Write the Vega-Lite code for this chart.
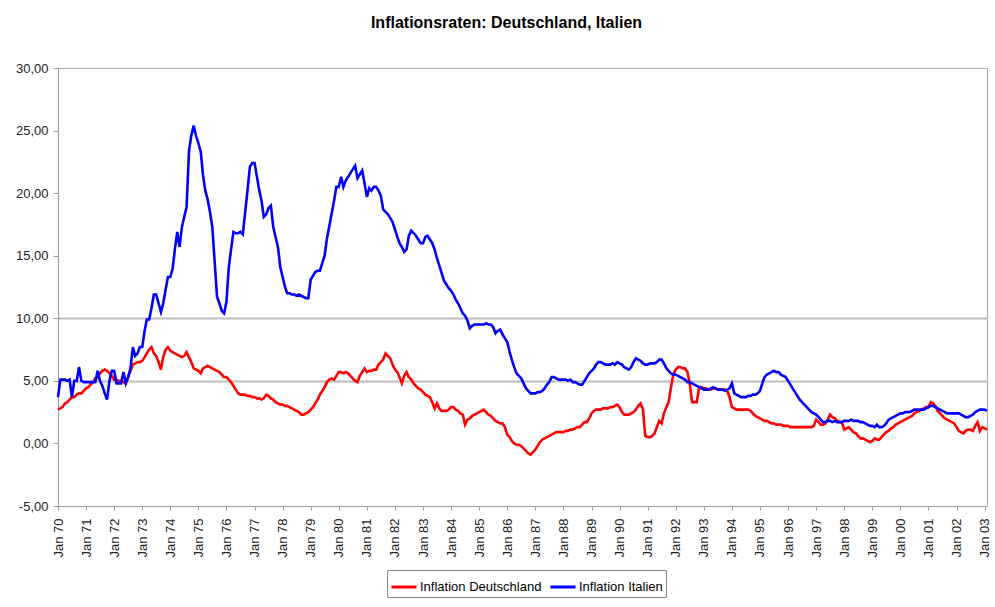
{
"$schema": "https://vega.github.io/schema/vega-lite/v6.json",
"autosize": {"type": "none"},
"width": 929,
"height": 438,
"padding": {"left": 58, "top": 68, "right": 8, "bottom": 101},
"background": "white",
"title": {"text": "Inflationsraten: Deutschland, Italien", "font": "Liberation Sans", "fontSize": 16, "fontWeight": "bold", "color": "#000000", "anchor": "middle", "offset": 31, "dx": -16},
"config": {"view": {"stroke": "#aaaaaa", "strokeWidth": 1}},
"data": {"values": [
{"m":"1970-01","de":2.7,"it":3.7},{"m":"1970-02","de":2.8,"it":5.1},{"m":"1970-03","de":2.9,"it":5.1},{"m":"1970-04","de":3.2,"it":5.1},{"m":"1970-05","de":3.3,"it":5.0},{"m":"1970-06","de":3.5,"it":5.1},{"m":"1970-07","de":3.7,"it":3.7},{"m":"1970-08","de":3.7,"it":5.0},{"m":"1970-09","de":3.9,"it":5.0},{"m":"1970-10","de":4.0,"it":6.1},{"m":"1970-11","de":4.0,"it":5.0},{"m":"1970-12","de":4.2,"it":4.9},
{"m":"1971-01","de":4.4,"it":4.9},{"m":"1971-02","de":4.5,"it":4.9},{"m":"1971-03","de":4.7,"it":4.9},{"m":"1971-04","de":4.9,"it":4.9},{"m":"1971-05","de":5.2,"it":4.9},{"m":"1971-06","de":5.3,"it":5.8},{"m":"1971-07","de":5.6,"it":5.0},{"m":"1971-08","de":5.8,"it":4.6},{"m":"1971-09","de":5.9,"it":4.0},{"m":"1971-10","de":5.8,"it":3.5},{"m":"1971-11","de":5.6,"it":5.0},{"m":"1971-12","de":5.4,"it":5.8},
{"m":"1972-01","de":5.1,"it":5.8},{"m":"1972-02","de":5.1,"it":4.8},{"m":"1972-03","de":5.0,"it":4.8},{"m":"1972-04","de":5.0,"it":4.8},{"m":"1972-05","de":4.9,"it":5.7},{"m":"1972-06","de":4.8,"it":4.8},{"m":"1972-07","de":5.3,"it":5.3},{"m":"1972-08","de":5.8,"it":6.0},{"m":"1972-09","de":6.3,"it":7.7},{"m":"1972-10","de":6.4,"it":7.0},{"m":"1972-11","de":6.5,"it":7.2},{"m":"1972-12","de":6.5,"it":7.7},
{"m":"1973-01","de":6.6,"it":7.7},{"m":"1973-02","de":6.9,"it":9.0},{"m":"1973-03","de":7.2,"it":9.9},{"m":"1973-04","de":7.5,"it":9.9},{"m":"1973-05","de":7.7,"it":10.8},{"m":"1973-06","de":7.2,"it":11.9},{"m":"1973-07","de":7.0,"it":11.9},{"m":"1973-08","de":6.5,"it":11.2},{"m":"1973-09","de":5.9,"it":10.5},{"m":"1973-10","de":6.9,"it":11.2},{"m":"1973-11","de":7.5,"it":12.3},{"m":"1973-12","de":7.7,"it":13.3},
{"m":"1974-01","de":7.4,"it":13.3},{"m":"1974-02","de":7.3,"it":14.0},{"m":"1974-03","de":7.2,"it":15.5},{"m":"1974-04","de":7.1,"it":16.9},{"m":"1974-05","de":7.0,"it":15.7},{"m":"1974-06","de":6.9,"it":17.3},{"m":"1974-07","de":7.0,"it":18.1},{"m":"1974-08","de":7.3,"it":18.9},{"m":"1974-09","de":6.9,"it":23.4},{"m":"1974-10","de":6.5,"it":24.6},{"m":"1974-11","de":6.0,"it":25.4},{"m":"1974-12","de":5.9,"it":24.6},
{"m":"1975-01","de":5.8,"it":24.0},{"m":"1975-02","de":5.6,"it":23.3},{"m":"1975-03","de":6.0,"it":21.5},{"m":"1975-04","de":6.1,"it":20.2},{"m":"1975-05","de":6.2,"it":19.5},{"m":"1975-06","de":6.1,"it":18.5},{"m":"1975-07","de":6.0,"it":17.3},{"m":"1975-08","de":5.9,"it":14.5},{"m":"1975-09","de":5.8,"it":11.7},{"m":"1975-10","de":5.7,"it":11.2},{"m":"1975-11","de":5.5,"it":10.6},{"m":"1975-12","de":5.3,"it":10.4},
{"m":"1976-01","de":5.3,"it":11.3},{"m":"1976-02","de":5.1,"it":14.1},{"m":"1976-03","de":4.9,"it":15.5},{"m":"1976-04","de":4.6,"it":16.9},{"m":"1976-05","de":4.3,"it":16.8},{"m":"1976-06","de":4.0,"it":16.8},{"m":"1976-07","de":3.9,"it":16.9},{"m":"1976-08","de":3.9,"it":16.7},{"m":"1976-09","de":3.9,"it":18.5},{"m":"1976-10","de":3.8,"it":20.2},{"m":"1976-11","de":3.8,"it":22.1},{"m":"1976-12","de":3.7,"it":22.4},
{"m":"1977-01","de":3.7,"it":22.4},{"m":"1977-02","de":3.6,"it":21.3},{"m":"1977-03","de":3.6,"it":20.3},{"m":"1977-04","de":3.5,"it":19.4},{"m":"1977-05","de":3.6,"it":18.1},{"m":"1977-06","de":3.9,"it":18.3},{"m":"1977-07","de":3.8,"it":18.8},{"m":"1977-08","de":3.6,"it":19.0},{"m":"1977-09","de":3.5,"it":17.3},{"m":"1977-10","de":3.3,"it":16.5},{"m":"1977-11","de":3.2,"it":15.7},{"m":"1977-12","de":3.1,"it":14.1},
{"m":"1978-01","de":3.1,"it":13.3},{"m":"1978-02","de":3.0,"it":12.5},{"m":"1978-03","de":3.0,"it":12.0},{"m":"1978-04","de":2.9,"it":12.0},{"m":"1978-05","de":2.8,"it":11.9},{"m":"1978-06","de":2.7,"it":11.9},{"m":"1978-07","de":2.6,"it":11.8},{"m":"1978-08","de":2.5,"it":11.9},{"m":"1978-09","de":2.3,"it":11.8},{"m":"1978-10","de":2.3,"it":11.7},{"m":"1978-11","de":2.4,"it":11.6},{"m":"1978-12","de":2.5,"it":11.6},
{"m":"1979-01","de":2.7,"it":13.1},{"m":"1979-02","de":2.9,"it":13.4},{"m":"1979-03","de":3.2,"it":13.7},{"m":"1979-04","de":3.5,"it":13.8},{"m":"1979-05","de":3.9,"it":13.8},{"m":"1979-06","de":4.2,"it":14.4},{"m":"1979-07","de":4.5,"it":15.0},{"m":"1979-08","de":4.9,"it":16.4},{"m":"1979-09","de":5.1,"it":17.4},{"m":"1979-10","de":5.2,"it":18.4},{"m":"1979-11","de":5.1,"it":19.4},{"m":"1979-12","de":5.4,"it":20.5},
{"m":"1980-01","de":5.7,"it":20.5},{"m":"1980-02","de":5.7,"it":21.3},{"m":"1980-03","de":5.6,"it":20.5},{"m":"1980-04","de":5.7,"it":21.0},{"m":"1980-05","de":5.6,"it":21.3},{"m":"1980-06","de":5.4,"it":21.6},{"m":"1980-07","de":5.2,"it":21.9},{"m":"1980-08","de":5.0,"it":22.2},{"m":"1980-09","de":4.9,"it":21.2},{"m":"1980-10","de":5.4,"it":21.5},{"m":"1980-11","de":5.7,"it":21.8},{"m":"1980-12","de":6.0,"it":20.8},
{"m":"1981-01","de":5.7,"it":19.7},{"m":"1981-02","de":5.8,"it":20.4},{"m":"1981-03","de":5.8,"it":20.2},{"m":"1981-04","de":5.9,"it":20.5},{"m":"1981-05","de":5.9,"it":20.5},{"m":"1981-06","de":6.3,"it":20.2},{"m":"1981-07","de":6.5,"it":19.8},{"m":"1981-08","de":6.7,"it":18.7},{"m":"1981-09","de":7.2,"it":18.5},{"m":"1981-10","de":7.0,"it":18.3},{"m":"1981-11","de":6.8,"it":18.0},{"m":"1981-12","de":6.3,"it":17.7},
{"m":"1982-01","de":5.9,"it":17.1},{"m":"1982-02","de":5.7,"it":16.5},{"m":"1982-03","de":5.3,"it":16.0},{"m":"1982-04","de":4.8,"it":15.7},{"m":"1982-05","de":5.4,"it":15.3},{"m":"1982-06","de":5.7,"it":15.5},{"m":"1982-07","de":5.3,"it":16.6},{"m":"1982-08","de":5.1,"it":17.0},{"m":"1982-09","de":4.8,"it":16.8},{"m":"1982-10","de":4.6,"it":16.6},{"m":"1982-11","de":4.4,"it":16.3},{"m":"1982-12","de":4.3,"it":16.0},
{"m":"1983-01","de":4.1,"it":16.0},{"m":"1983-02","de":3.9,"it":16.5},{"m":"1983-03","de":3.8,"it":16.6},{"m":"1983-04","de":3.7,"it":16.3},{"m":"1983-05","de":3.3,"it":16.0},{"m":"1983-06","de":2.8,"it":15.5},{"m":"1983-07","de":3.2,"it":14.8},{"m":"1983-08","de":2.8,"it":14.2},{"m":"1983-09","de":2.6,"it":13.6},{"m":"1983-10","de":2.6,"it":13.0},{"m":"1983-11","de":2.6,"it":12.7},{"m":"1983-12","de":2.7,"it":12.4},
{"m":"1984-01","de":2.9,"it":12.2},{"m":"1984-02","de":2.9,"it":11.9},{"m":"1984-03","de":2.7,"it":11.5},{"m":"1984-04","de":2.6,"it":11.2},{"m":"1984-05","de":2.4,"it":10.8},{"m":"1984-06","de":2.3,"it":10.4},{"m":"1984-07","de":1.5,"it":10.2},{"m":"1984-08","de":1.9,"it":9.8},{"m":"1984-09","de":2.0,"it":9.2},{"m":"1984-10","de":2.2,"it":9.4},{"m":"1984-11","de":2.3,"it":9.5},{"m":"1984-12","de":2.4,"it":9.5},
{"m":"1985-01","de":2.5,"it":9.5},{"m":"1985-02","de":2.6,"it":9.5},{"m":"1985-03","de":2.7,"it":9.5},{"m":"1985-04","de":2.5,"it":9.6},{"m":"1985-05","de":2.3,"it":9.5},{"m":"1985-06","de":2.2,"it":9.5},{"m":"1985-07","de":2.0,"it":9.3},{"m":"1985-08","de":1.8,"it":8.8},{"m":"1985-09","de":1.7,"it":9.0},{"m":"1985-10","de":1.6,"it":9.1},{"m":"1985-11","de":1.6,"it":8.7},{"m":"1985-12","de":1.3,"it":8.4},
{"m":"1986-01","de":0.7,"it":8.1},{"m":"1986-02","de":0.5,"it":7.3},{"m":"1986-03","de":0.2,"it":6.7},{"m":"1986-04","de":0.0,"it":6.1},{"m":"1986-05","de":-0.1,"it":5.6},{"m":"1986-06","de":-0.1,"it":5.4},{"m":"1986-07","de":-0.2,"it":5.2},{"m":"1986-08","de":-0.4,"it":4.8},{"m":"1986-09","de":-0.6,"it":4.4},{"m":"1986-10","de":-0.8,"it":4.2},{"m":"1986-11","de":-0.9,"it":4.0},{"m":"1986-12","de":-0.7,"it":4.0},
{"m":"1987-01","de":-0.5,"it":4.0},{"m":"1987-02","de":-0.2,"it":4.1},{"m":"1987-03","de":0.1,"it":4.1},{"m":"1987-04","de":0.3,"it":4.2},{"m":"1987-05","de":0.4,"it":4.4},{"m":"1987-06","de":0.5,"it":4.7},{"m":"1987-07","de":0.6,"it":4.9},{"m":"1987-08","de":0.7,"it":5.3},{"m":"1987-09","de":0.8,"it":5.3},{"m":"1987-10","de":0.9,"it":5.2},{"m":"1987-11","de":0.9,"it":5.1},{"m":"1987-12","de":0.9,"it":5.1},
{"m":"1988-01","de":0.9,"it":5.1},{"m":"1988-02","de":1.0,"it":5.1},{"m":"1988-03","de":1.0,"it":5.0},{"m":"1988-04","de":1.1,"it":5.1},{"m":"1988-05","de":1.1,"it":4.9},{"m":"1988-06","de":1.2,"it":4.9},{"m":"1988-07","de":1.3,"it":4.8},{"m":"1988-08","de":1.3,"it":4.7},{"m":"1988-09","de":1.5,"it":4.7},{"m":"1988-10","de":1.7,"it":5.0},{"m":"1988-11","de":1.7,"it":5.3},{"m":"1988-12","de":2.0,"it":5.6},
{"m":"1989-01","de":2.4,"it":5.8},{"m":"1989-02","de":2.6,"it":6.0},{"m":"1989-03","de":2.7,"it":6.3},{"m":"1989-04","de":2.7,"it":6.5},{"m":"1989-05","de":2.7,"it":6.5},{"m":"1989-06","de":2.8,"it":6.4},{"m":"1989-07","de":2.8,"it":6.3},{"m":"1989-08","de":2.8,"it":6.3},{"m":"1989-09","de":2.9,"it":6.3},{"m":"1989-10","de":2.9,"it":6.4},{"m":"1989-11","de":3.0,"it":6.3},{"m":"1989-12","de":3.1,"it":6.5},
{"m":"1990-01","de":2.9,"it":6.4},{"m":"1990-02","de":2.5,"it":6.3},{"m":"1990-03","de":2.3,"it":6.1},{"m":"1990-04","de":2.3,"it":6.0},{"m":"1990-05","de":2.3,"it":5.9},{"m":"1990-06","de":2.4,"it":6.1},{"m":"1990-07","de":2.5,"it":6.5},{"m":"1990-08","de":2.7,"it":6.8},{"m":"1990-09","de":3.0,"it":6.7},{"m":"1990-10","de":3.2,"it":6.6},{"m":"1990-11","de":2.7,"it":6.4},{"m":"1990-12","de":0.6,"it":6.3},
{"m":"1991-01","de":0.5,"it":6.3},{"m":"1991-02","de":0.5,"it":6.4},{"m":"1991-03","de":0.6,"it":6.4},{"m":"1991-04","de":0.8,"it":6.4},{"m":"1991-05","de":1.3,"it":6.5},{"m":"1991-06","de":1.8,"it":6.7},{"m":"1991-07","de":1.6,"it":6.7},{"m":"1991-08","de":2.4,"it":6.4},{"m":"1991-09","de":2.9,"it":6.0},{"m":"1991-10","de":3.3,"it":5.8},{"m":"1991-11","de":4.5,"it":5.6},{"m":"1991-12","de":5.5,"it":5.5},
{"m":"1992-01","de":5.9,"it":5.5},{"m":"1992-02","de":6.1,"it":5.4},{"m":"1992-03","de":6.1,"it":5.3},{"m":"1992-04","de":6.0,"it":5.2},{"m":"1992-05","de":6.0,"it":5.1},{"m":"1992-06","de":5.7,"it":4.9},{"m":"1992-07","de":4.8,"it":4.9},{"m":"1992-08","de":3.3,"it":4.8},{"m":"1992-09","de":3.3,"it":4.7},{"m":"1992-10","de":3.3,"it":4.6},{"m":"1992-11","de":4.5,"it":4.5},{"m":"1992-12","de":4.5,"it":4.4},
{"m":"1993-01","de":4.4,"it":4.3},{"m":"1993-02","de":4.4,"it":4.3},{"m":"1993-03","de":4.3,"it":4.3},{"m":"1993-04","de":4.3,"it":4.4},{"m":"1993-05","de":4.4,"it":4.5},{"m":"1993-06","de":4.4,"it":4.4},{"m":"1993-07","de":4.3,"it":4.3},{"m":"1993-08","de":4.3,"it":4.3},{"m":"1993-09","de":4.3,"it":4.3},{"m":"1993-10","de":4.3,"it":4.2},{"m":"1993-11","de":4.2,"it":4.3},{"m":"1993-12","de":3.7,"it":4.4},
{"m":"1994-01","de":2.9,"it":4.8},{"m":"1994-02","de":2.8,"it":4.0},{"m":"1994-03","de":2.7,"it":3.9},{"m":"1994-04","de":2.7,"it":3.8},{"m":"1994-05","de":2.7,"it":3.7},{"m":"1994-06","de":2.7,"it":3.7},{"m":"1994-07","de":2.7,"it":3.7},{"m":"1994-08","de":2.7,"it":3.8},{"m":"1994-09","de":2.6,"it":3.8},{"m":"1994-10","de":2.4,"it":3.9},{"m":"1994-11","de":2.2,"it":3.9},{"m":"1994-12","de":2.1,"it":4.0},
{"m":"1995-01","de":2.0,"it":4.2},{"m":"1995-02","de":1.9,"it":4.8},{"m":"1995-03","de":1.8,"it":5.3},{"m":"1995-04","de":1.8,"it":5.5},{"m":"1995-05","de":1.7,"it":5.6},{"m":"1995-06","de":1.6,"it":5.7},{"m":"1995-07","de":1.6,"it":5.8},{"m":"1995-08","de":1.5,"it":5.7},{"m":"1995-09","de":1.5,"it":5.7},{"m":"1995-10","de":1.5,"it":5.5},{"m":"1995-11","de":1.4,"it":5.4},{"m":"1995-12","de":1.4,"it":5.3},
{"m":"1996-01","de":1.4,"it":5.0},{"m":"1996-02","de":1.3,"it":4.7},{"m":"1996-03","de":1.3,"it":4.4},{"m":"1996-04","de":1.3,"it":4.1},{"m":"1996-05","de":1.3,"it":3.8},{"m":"1996-06","de":1.3,"it":3.5},{"m":"1996-07","de":1.3,"it":3.3},{"m":"1996-08","de":1.3,"it":3.1},{"m":"1996-09","de":1.3,"it":2.9},{"m":"1996-10","de":1.3,"it":2.7},{"m":"1996-11","de":1.3,"it":2.5},{"m":"1996-12","de":1.4,"it":2.4},
{"m":"1997-01","de":1.9,"it":2.3},{"m":"1997-02","de":1.7,"it":2.1},{"m":"1997-03","de":1.5,"it":1.9},{"m":"1997-04","de":1.5,"it":1.7},{"m":"1997-05","de":1.6,"it":1.7},{"m":"1997-06","de":1.9,"it":1.8},{"m":"1997-07","de":2.3,"it":1.8},{"m":"1997-08","de":2.1,"it":1.7},{"m":"1997-09","de":2.0,"it":1.8},{"m":"1997-10","de":1.8,"it":1.7},{"m":"1997-11","de":1.7,"it":1.7},{"m":"1997-12","de":1.7,"it":1.7},
{"m":"1998-01","de":1.1,"it":1.8},{"m":"1998-02","de":1.2,"it":1.8},{"m":"1998-03","de":1.3,"it":1.8},{"m":"1998-04","de":1.1,"it":1.9},{"m":"1998-05","de":0.9,"it":1.8},{"m":"1998-06","de":0.8,"it":1.8},{"m":"1998-07","de":0.6,"it":1.8},{"m":"1998-08","de":0.4,"it":1.7},{"m":"1998-09","de":0.4,"it":1.7},{"m":"1998-10","de":0.3,"it":1.6},{"m":"1998-11","de":0.2,"it":1.5},{"m":"1998-12","de":0.1,"it":1.4},
{"m":"1999-01","de":0.2,"it":1.4},{"m":"1999-02","de":0.4,"it":1.3},{"m":"1999-03","de":0.3,"it":1.5},{"m":"1999-04","de":0.3,"it":1.3},{"m":"1999-05","de":0.5,"it":1.3},{"m":"1999-06","de":0.7,"it":1.4},{"m":"1999-07","de":0.9,"it":1.6},{"m":"1999-08","de":1.0,"it":1.9},{"m":"1999-09","de":1.2,"it":2.0},{"m":"1999-10","de":1.3,"it":2.1},{"m":"1999-11","de":1.5,"it":2.2},{"m":"1999-12","de":1.6,"it":2.3},
{"m":"2000-01","de":1.7,"it":2.4},{"m":"2000-02","de":1.8,"it":2.4},{"m":"2000-03","de":1.9,"it":2.5},{"m":"2000-04","de":2.0,"it":2.5},{"m":"2000-05","de":2.1,"it":2.5},{"m":"2000-06","de":2.2,"it":2.6},{"m":"2000-07","de":2.4,"it":2.7},{"m":"2000-08","de":2.5,"it":2.7},{"m":"2000-09","de":2.6,"it":2.7},{"m":"2000-10","de":2.7,"it":2.7},{"m":"2000-11","de":2.8,"it":2.7},{"m":"2000-12","de":2.9,"it":2.8},
{"m":"2001-01","de":2.9,"it":2.9},{"m":"2001-02","de":3.3,"it":3.0},{"m":"2001-03","de":3.2,"it":3.0},{"m":"2001-04","de":3.0,"it":2.9},{"m":"2001-05","de":2.6,"it":2.8},{"m":"2001-06","de":2.4,"it":2.7},{"m":"2001-07","de":2.2,"it":2.6},{"m":"2001-08","de":2.0,"it":2.5},{"m":"2001-09","de":1.9,"it":2.4},{"m":"2001-10","de":1.8,"it":2.4},{"m":"2001-11","de":1.7,"it":2.4},{"m":"2001-12","de":1.6,"it":2.4},
{"m":"2002-01","de":1.3,"it":2.4},{"m":"2002-02","de":1.0,"it":2.4},{"m":"2002-03","de":0.9,"it":2.3},{"m":"2002-04","de":0.8,"it":2.2},{"m":"2002-05","de":1.0,"it":2.1},{"m":"2002-06","de":1.1,"it":2.1},{"m":"2002-07","de":1.1,"it":2.2},{"m":"2002-08","de":1.0,"it":2.3},{"m":"2002-09","de":1.4,"it":2.5},{"m":"2002-10","de":1.7,"it":2.6},{"m":"2002-11","de":1.0,"it":2.7},{"m":"2002-12","de":1.3,"it":2.7},
{"m":"2003-01","de":1.2,"it":2.7},{"m":"2003-02","de":1.1,"it":2.6}
]},
"transform": [{"fold": ["de", "it"], "as": ["s", "v"]}],
"mark": {"type": "line", "strokeWidth": 2.6, "interpolate": "linear"},
"encoding": {
  "x": {"field": "m", "type": "temporal",
    "scale": {"type": "utc", "domain": [{"year": 1970, "month": 1, "date": 1, "utc": true}, {"year": 2003, "month": 2, "date": 1, "utc": true}]},
    "axis": {"title": null, "tickCount": {"interval": "year", "step": 1}, "labelExpr": "utcFormat(datum.value, '%b %y')", "labelAngle": 270, "labelFont": "Liberation Sans", "labelFontSize": 13, "labelColor": "#222222", "domainColor": "#999999", "tickColor": "#999999", "tickSize": 4, "grid": false, "labelPadding": 8, "labelFlush": false, "labelOverlap": false}},
  "y": {"field": "v", "type": "quantitative",
    "scale": {"domain": [-5, 30], "nice": false, "zero": false},
    "axis": {"title": null, "values": [-5, 0, 5, 10, 15, 20, 25, 30], "labelExpr": "(datum.value < 0 ? '-' : '') + replace(format(abs(datum.value), '.2f'), '.', ',')", "labelFont": "Liberation Sans", "labelFontSize": 13, "labelColor": "#222222", "domainColor": "#999999", "tickColor": "#999999", "tickSize": 5, "labelPadding": 5, "grid": true, "gridWidth": 2, "gridColor": {"condition": {"test": "datum.value == 5 || datum.value == 10", "value": "#bdbdbd"}, "value": "rgba(0,0,0,0)"}}},
  "color": {"field": "s", "type": "nominal",
    "scale": {"domain": ["de", "it"], "range": ["#ff0000", "#0000ff"]},
    "legend": {"title": null, "orient": "none", "legendX": 329, "legendY": 502, "direction": "horizontal", "symbolType": "stroke", "symbolSize": 625, "symbolStrokeWidth": 3, "labelFont": "Liberation Sans", "labelFontSize": 13, "labelColor": "#000000", "labelExpr": "datum.label == 'de' ? 'Inflation Deutschland' : 'Inflation Italien'", "strokeColor": "#888888", "fillColor": "#ffffff", "padding": 3, "columnPadding": 2, "labelOffset": 2}}
}
}
